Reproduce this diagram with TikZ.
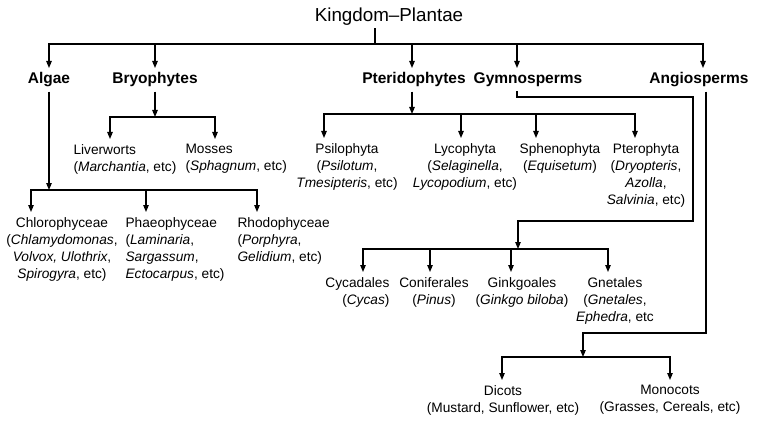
\documentclass[tikz,border=0pt]{standalone}
\usepackage{fontspec}
\setmainfont{Liberation Sans}
\usetikzlibrary{arrows.meta}
\tikzset{
  group/.style={font=\fontsize{15.5}{18}\selectfont\bfseries,inner xsep=2pt,inner ysep=4pt},
  leaf/.style={font=\fontsize{13.7}{17}\selectfont,inner xsep=2pt,inner ysep=5pt,align=center},
  link/.style={-{Triangle[length=7pt,width=5.5pt]}}
}
\begin{document}
\begin{tikzpicture}[x=1pt,y=-1pt,line width=1.1pt]
\useasboundingbox (0,0) rectangle (763,425);
\node[font=\fontsize{18.8}{20}\selectfont,anchor=base,inner sep=2pt] (title) at (389,22) {Kingdom–Plantae};
\node[group,anchor=north] (algae) at (49,68) {Algae};
\node[group,anchor=north] (bryo) at (155,68) {Bryophytes};
\node[group,anchor=north] (pterido) at (414,68) {Pteridophytes};
\node[group,anchor=north] (gymno) at (528,68) {Gymnosperms};
\node[group,anchor=north] (angio) at (699,68) {Angiosperms};
\coordinate (top) at (375,44);
\draw (title.south -| top) -- (top);
\draw[link] (top) -| (algae);
\draw[link] (top) -| (bryo);
\draw[link] (top) -| (pterido.north -| 412,0);
\draw[link] (top) -| (gymno.north -| 517,0);
\draw[link] (top) -| (angio.north -| 703,0);

\coordinate (algaebus) at (49,190);
\draw[link] (algae) -- (algaebus);
\node[leaf,anchor=north] (chloro) at (62,212) {Chlorophyceae\\(\textit{Chlamydomonas},\\\textit{Volvox, Ulothrix},\\\textit{Spirogyra}, etc)};
\node[leaf,anchor=north west,align=left] (phaeo) at (123,212) {Phaeophyceae\\(\textit{Laminaria},\\\textit{Sargassum},\\\textit{Ectocarpus}, etc)};
\node[leaf,anchor=north west,align=left] (rhodo) at (235,212) {Rhodophyceae\\(\textit{Porphyra},\\\textit{Gelidium}, etc)};
\draw[link] (algaebus) -| (chloro.north -| 31,0);
\draw[link] (algaebus -| 146,0) -- (phaeo.north -| 146,0);
\draw[link] (algaebus) -| (rhodo.north -| 257,0);

\coordinate (bryobus) at (155,117);
\draw[link] (bryo) -- (bryobus);
\node[leaf,anchor=north west,align=left] (liver) at (71,139) {Liverworts\\(\textit{Marchantia}, etc)};
\node[leaf,anchor=north west,align=left] (moss) at (183,139) {Mosses\\(\textit{Sphagnum}, etc)};
\draw[link] (bryobus) -| (liver.north -| 110,0);
\draw[link] (bryobus) -| (moss.north -| 215,0);

\coordinate (pteribus) at (412,114);
\draw[link] (pterido.south -| pteribus) -- (pteribus);
\node[leaf,anchor=north] (psilo) at (347,138) {Psilophyta\\(\textit{Psilotum},\\\textit{Tmesipteris}, etc)};
\node[leaf,anchor=north] (lyco) at (465,138) {Lycophyta\\(\textit{Selaginella},\\\textit{Lycopodium}, etc)};
\node[leaf,anchor=north] (spheno) at (560,138) {Sphenophyta\\(\textit{Equisetum})};
\node[leaf,anchor=north] (ptero) at (646,138) {Pterophyta\\(\textit{Dryopteris},\\\textit{Azolla},\\\textit{Salvinia}, etc)};
\draw[link] (pteribus) -| (psilo.north -| 324,0);
\draw[link] (pteribus -| 461,0) -- (lyco.north -| 461,0);
\draw[link] (pteribus -| 536,0) -- (spheno.north -| 536,0);
\draw[link] (pteribus) -| (ptero.north -| 635,0);

\coordinate (gymbus) at (518,249);
\draw[link] (gymno.south -| 517,0) |- (693,97) |- (518,221) -- (gymbus);
\node[leaf,anchor=north east,align=right] (cycad) at (392,272) {Cycadales\\(\textit{Cycas})};
\node[leaf,anchor=north] (conif) at (434,272) {Coniferales\\(\textit{Pinus})};
\node[leaf,anchor=north] (ginkgo) at (522,272) {Ginkgoales\\(\textit{Ginkgo biloba})};
\node[leaf,anchor=north] (gnet) at (615,272) {Gnetales\\(\textit{Gnetales},\\\textit{Ephedra}, etc};
\draw[link] (gymbus) -| (cycad.north -| 363,0);
\draw[link] (gymbus -| 430,0) -- (conif.north -| 430,0);
\draw[link] (gymbus -| 511,0) -- (ginkgo.north -| 511,0);
\draw[link] (gymbus) -| (gnet.north -| 608,0);

\coordinate (angiobus) at (583,357);
\draw[link] (angio.south -| 706,0) |- (583,333) -- (angiobus);
\node[leaf,anchor=north] (dicot) at (503,380) {Dicots\\(Mustard, Sunflower, etc)};
\node[leaf,anchor=north] (monocot) at (670,380) {Monocots\\(Grasses, Cereals, etc)};
\draw[link] (angiobus) -| (dicot.north -| 502,0);
\draw[link] (angiobus) -| (monocot.north -| 670,0);
\end{tikzpicture}
\end{document}
